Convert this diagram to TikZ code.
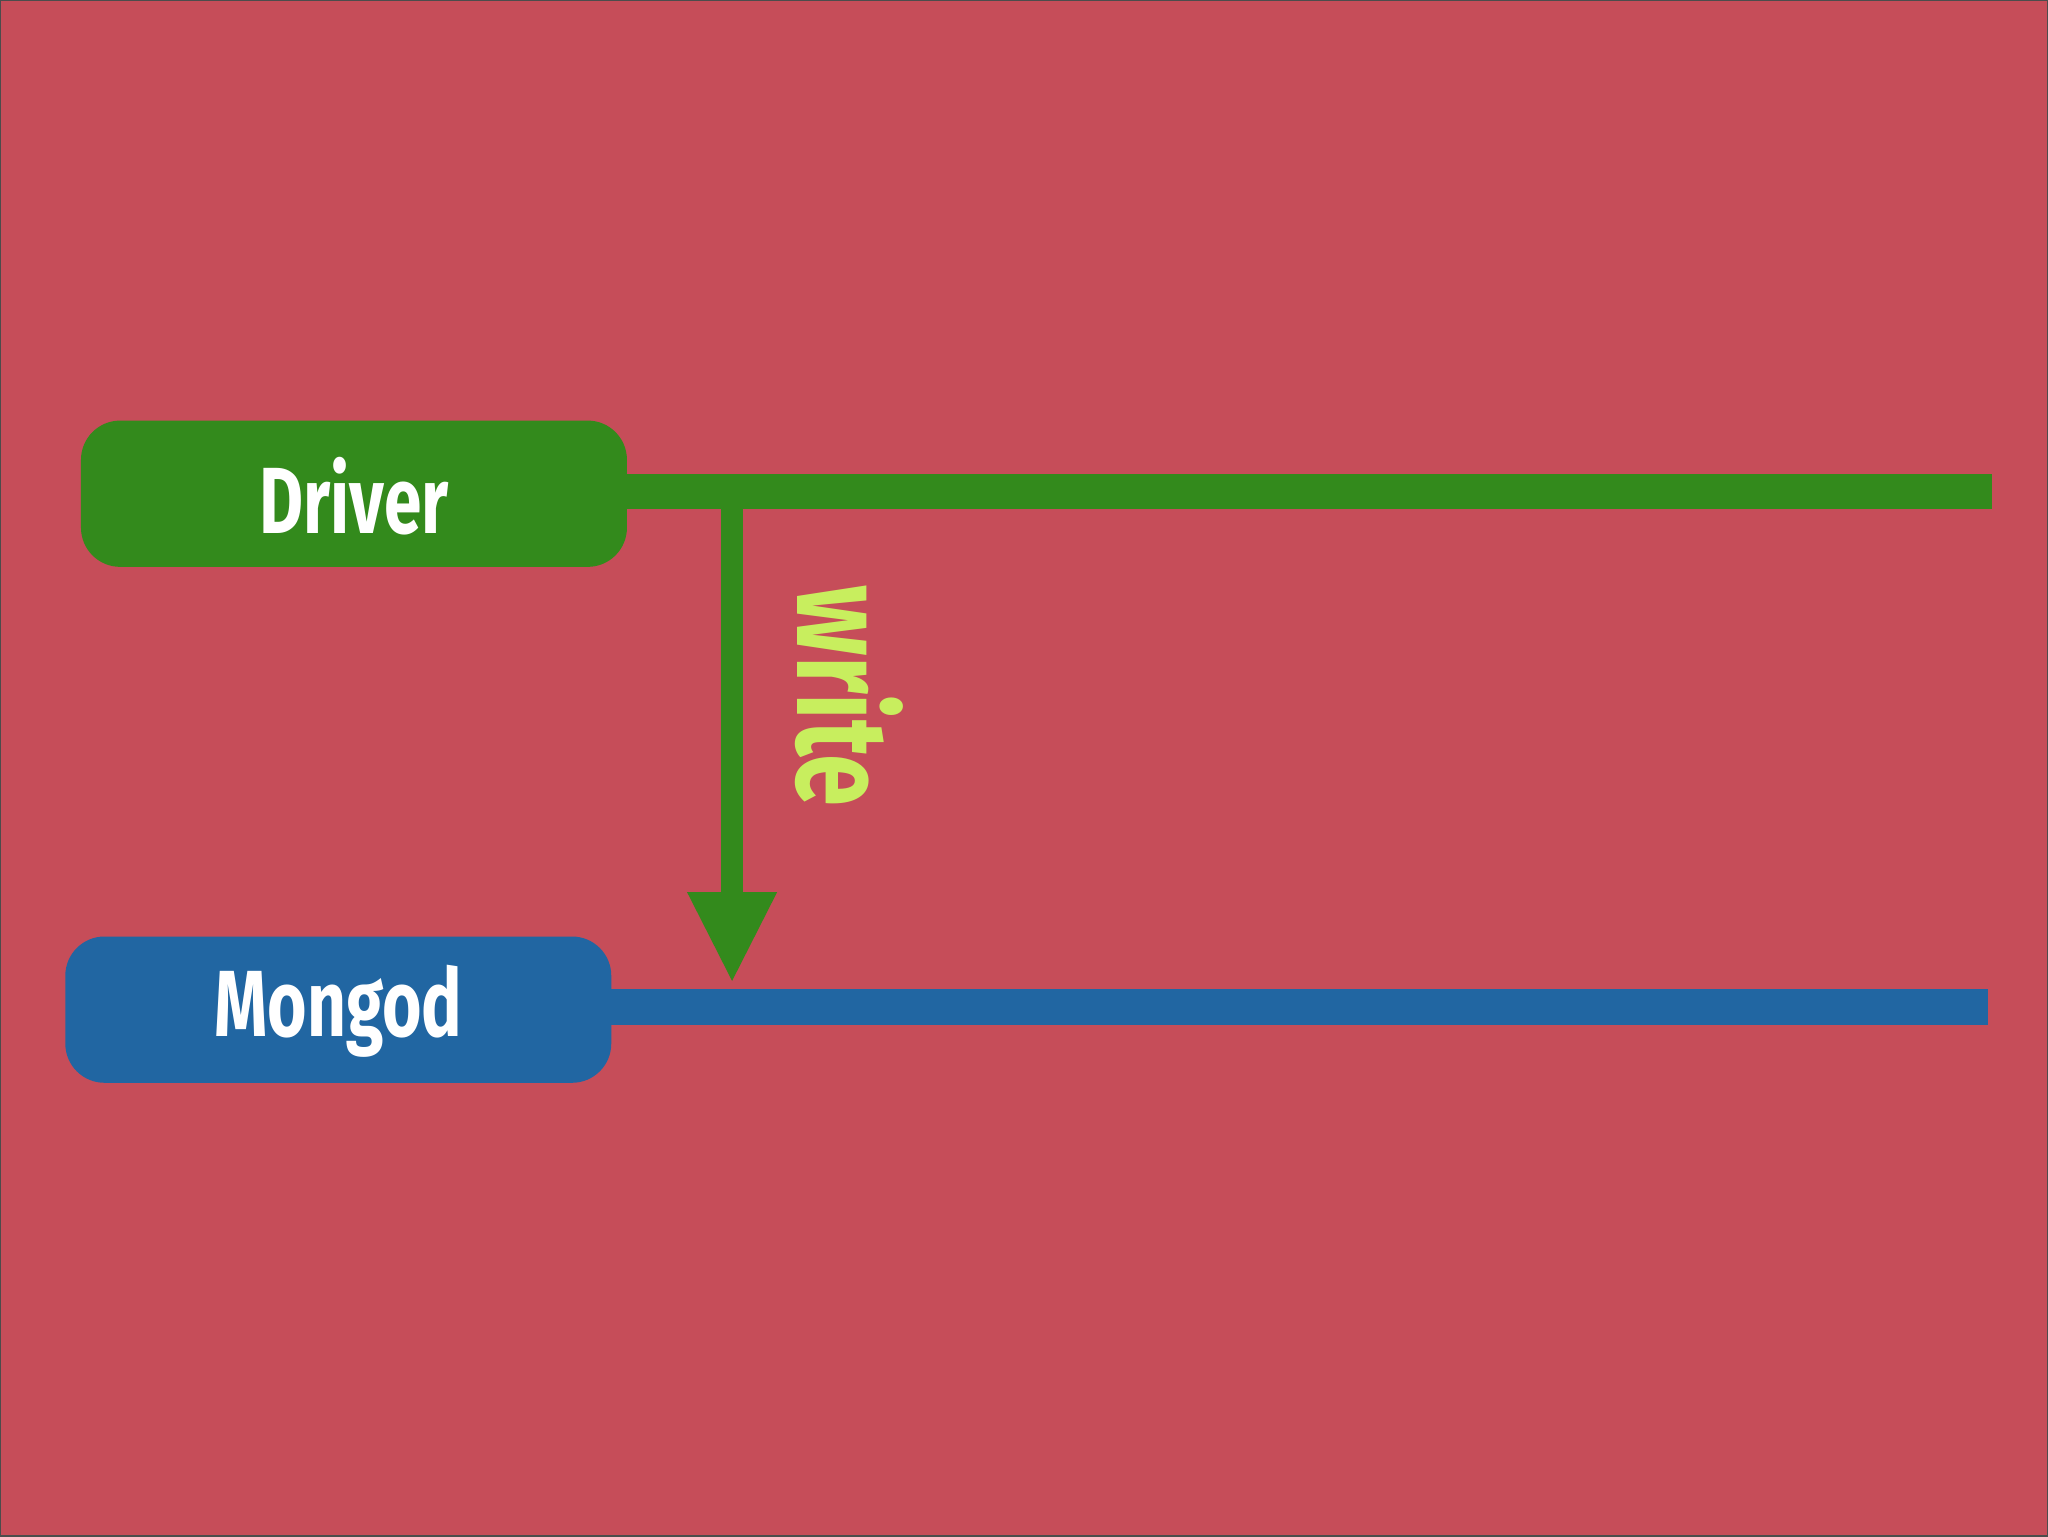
\documentclass[tikz,border=0pt]{standalone}
\usepackage{fontspec}
\setmainfont{Fira Sans}
\definecolor{bg}{HTML}{C64D59}
\definecolor{grn}{HTML}{338A1C}
\definecolor{blu}{HTML}{2166A2}
\definecolor{lgr}{HTML}{C8EE5E}
\tikzset{box/.style={rounded corners=30pt,inner sep=0pt,text=white,font=\fontsize{72}{72}\selectfont\bfseries}}
\begin{document}
\begin{tikzpicture}[x=1pt,y=-1pt]
\useasboundingbox (0,0) rectangle (1568,1176);
\fill[bg,draw=black!70,line width=1pt] (0,0) rectangle (1568,1176);
\fill[grn,rounded corners=30pt] (62,322) rectangle (480,434);
\node[box] (drv) at (271,380) {\scalebox{0.72}[1]{Driver}};
\fill[blu,rounded corners=30pt] (50,717) rectangle (468,829);
\node[box] (mon) at (259,774) {\scalebox{0.72}[1]{Mongod}};
\coordinate (d1) at (476,376.5); \coordinate (d2) at (1525,376.5);
\coordinate (m1) at (464,771); \coordinate (m2) at (1522,771);
\draw[grn,line width=27pt] (d1) -- (d2);
\draw[blu,line width=28pt] (m1) -- (m2);
\coordinate (a1) at (560.5,388); \coordinate (a2) at (560.5,684);
\draw[grn,line width=17pt] (a1) -- (a2);
\fill[grn] (526,683) -- (595,683) -- (560.5,751) -- cycle;
\node[rotate=-90,text=lgr,font=\fontsize{100}{100}\selectfont\bfseries] (w) at (650,533) {\scalebox{0.72}[1]{write}};
\end{tikzpicture}
\end{document}
